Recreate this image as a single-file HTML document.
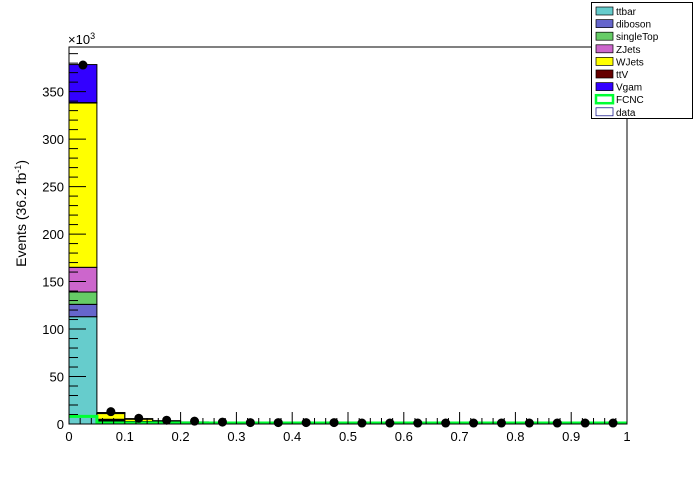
<!DOCTYPE html>
<html><head><meta charset="utf-8"><style>
body{margin:0;background:#fff;font-family:"Liberation Sans",sans-serif;}
svg text{font-family:"Liberation Sans",sans-serif;}
</style></head><body>
<svg width="696" height="472" viewBox="0 0 696 472">
<g id="plot"></g>
</svg>
<script>
const binEdges=[0,0.05,0.1,0.15,0.2,0.25,0.3,0.35,0.4,0.45,0.5,0.55,0.6,0.65,0.7,0.75,0.8,0.85,0.9,0.95,1];
const seriesNames=["ttbar","diboson","singleTop","ZJets","WJets","ttV","Vgam"];
const seriesColors=["#66cccc","#6666cc","#66cc66","#cc66cc","#ffff00","#660000","#3300ff"];
const ttbar=[113,3,1.5,1,0.6,0.4,0.3,0.3,0.2,0.2,0.2,0.2,0.2,0.2,0.2,0.2,0.2,0.2,0.2,0.2];
const diboson=[13,0.5,0.3,0.2,0.1,0.1,0.1,0.1,0.1,0.1,0.1,0.1,0.1,0.1,0.1,0.1,0.1,0.1,0.1,0.1];
const singleTop=[13,0.5,0.3,0.2,0.1,0.1,0.1,0.1,0.1,0.1,0.1,0.1,0.1,0.1,0.1,0.1,0.1,0.1,0.1,0.1];
const zjets=[26,1,0.5,0.3,0.2,0.1,0.1,0.1,0.1,0.1,0.1,0.1,0.1,0.1,0.1,0.1,0.1,0.1,0.1,0.1];
const wjets=[173,6,2.5,1.5,1,0.7,0.5,0.4,0.4,0.3,0.3,0.3,0.3,0.3,0.3,0.3,0.3,0.3,0.3,0.3];
const ttv=[0.5,0.1,0.1,0,0,0,0,0,0,0,0,0,0,0,0,0,0,0,0,0];
const vgam=[40,1,0.5,0.3,0.2,0.1,0.1,0.1,0.1,0.1,0.1,0.1,0.1,0.1,0.1,0.1,0.1,0.1,0.1,0.1];
const fcnc=[8,1,1,1,1,1,1,1,1,1,1,1,1,1,1,1,1,1,1,1];
const dataVals=[378,13,6,4,3,2,1.5,1.5,1.5,1.5,1,1,1,1,1,1,1,1,1,1];
const xTicks=["0","0.1","0.2","0.3","0.4","0.5","0.6","0.7","0.8","0.9","1"];
const yTicks=[0,50,100,150,200,250,300,350];
const series=[ttbar,diboson,singleTop,zjets,wjets,ttv,vgam];

const X0=69,X1=627,Y0=424,YT=47,YMAX=397;
const xs=v=>X0+(X1-X0)*v;
const ys=v=>Y0-(Y0-YT)*v/YMAX;
const NS="http://www.w3.org/2000/svg";
const g=document.getElementById('plot');
function mk(t,a){const e=document.createElementNS(NS,t);for(const k in a)e.setAttribute(k,a[k]);g.appendChild(e);return e;}

const cum=new Array(binEdges.length-1).fill(0);
series.forEach((s,si)=>{
  for(let i=0;i<s.length;i++){
    const b=cum[i],t=b+s[i];cum[i]=t;
    if(s[i]<=0)continue;
    const r=mk('rect',{x:xs(binEdges[i]),y:ys(t),width:xs(binEdges[i+1])-xs(binEdges[i]),height:ys(b)-ys(t),fill:seriesColors[si],stroke:'#000','stroke-width':1});
    
    
  }
});
let d='';
for(let i=0;i<fcnc.length;i++){d+=(i?'L':'M')+xs(binEdges[i])+' '+ys(fcnc[i])+'L'+xs(binEdges[i+1])+' '+ys(fcnc[i]);}
const fl=mk('path',{d:d,fill:'none',stroke:'#00ff33','stroke-width':3});


for(let i=0;i<dataVals.length;i++){
  const c=mk('circle',{cx:xs((binEdges[i]+binEdges[i+1])/2),cy:ys(dataVals[i]),r:4.5,fill:'#000'});
  
  
}
const fr=mk('rect',{x:X0,y:YT,width:X1-X0,height:Y0-YT,fill:'none',stroke:'#000','stroke-width':1});


for(let k=0;k<=50;k++){const v=k/50,len=k%5==0?12:6;mk('line',{x1:xs(v),x2:xs(v),y1:Y0,y2:Y0-len,stroke:'#000'});}
xTicks.forEach((t,k)=>{const e=mk('text',{x:xs(k/10),y:Y0+17,'font-size':13,'text-anchor':'middle'});e.textContent=t;

});
for(let v=0;v<=YMAX;v+=10){const len=v%50==0?17:9;mk('line',{x1:X0,x2:X0+len,y1:ys(v),y2:ys(v),stroke:'#000'});}
yTicks.forEach(v=>{const e=mk('text',{x:X0-5,y:ys(v)+5,'font-size':13,'text-anchor':'end'});e.textContent=v;

});
const ex=mk('text',{x:68,y:44,'font-size':13});ex.innerHTML='×10<tspan dy="-5" font-size="9">3</tspan>';


const yt=mk('text',{transform:'translate(26,160) rotate(-90)','font-size':14,'text-anchor':'end'});yt.innerHTML='Events (36.2 fb<tspan dy="-5" font-size="9">-1</tspan><tspan dy="5">)</tspan>';


const lb=mk('rect',{x:591.5,y:2.5,width:101,height:116,fill:'#fff',stroke:'#000'});


const legNames=seriesNames.concat(["FCNC","data"]);
legNames.forEach((n,i)=>{
  const y=6+i*12.6;
  let a={x:596,y:y+1,width:17,height:8,stroke:'#000','stroke-width':0.7,fill:i<7?seriesColors[i]:'#fff'};
  if(n=='FCNC'){a.stroke='#00ff33';a['stroke-width']=2.5;}
  if(n=='data'){a.stroke='#000080';}
  const r=mk('rect',a);
  
  
  const t=mk('text',{x:616,y:y+9,'font-size':10});t.textContent=n;
  
  
});
</script>
</body></html>
